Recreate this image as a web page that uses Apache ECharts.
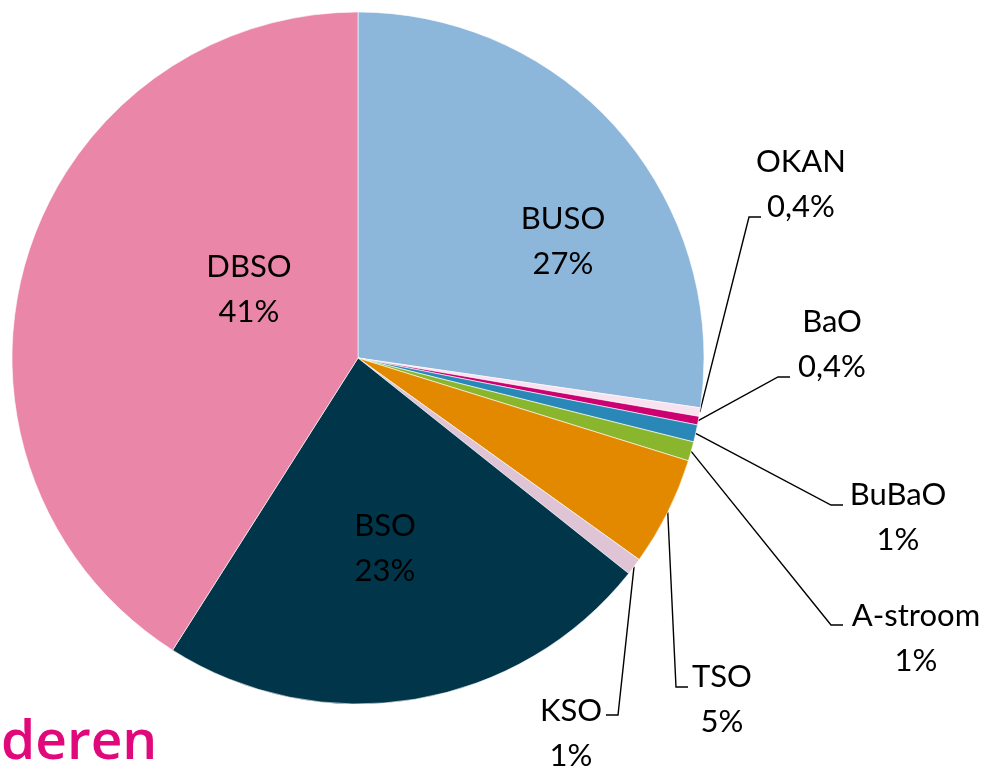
<!DOCTYPE html>
<html>
<head>
<meta charset="utf-8">
<script src="https://cdn.jsdelivr.net/npm/echarts@6/dist/echarts.min.js"></script>
<style>
  html, body { margin: 0; padding: 0; background: #fff; }
  #chart { width: 990px; height: 770px; }
</style>
</head>
<body>
<div id="chart"></div>
<script>
// slices, clockwise from 12 o'clock
const names = ['BUSO', 'OKAN', 'BaO', 'BuBaO', 'A-stroom', 'TSO', 'KSO', 'BSO', 'DBSO'];
const shares = [27.3, 0.4, 0.4, 0.8, 0.9, 5.1, 0.8, 23.3, 41.0];
const colors = ['#8CB6DA', '#F8E2EF', '#CC0070', '#2A88B8', '#8AB62E', '#E38900', '#DEC4D4', '#00354A', '#EA86A7'];
const insideNames = ['BUSO', 'BSO', 'DBSO'];

// label placement (centre of the two-line block), leader end x and y
const labelPos = {
  'BUSO':     {x: 563, y: 241},
  'DBSO':     {x: 249, y: 289},
  'BSO':      {x: 385, y: 548},
  'OKAN':     {x: 801, y: 184, endX: 761, endY: 217, side: 'left'},
  'BaO':      {x: 832, y: 344, endX: 790, endY: 377, side: 'left'},
  'BuBaO':    {x: 898, y: 517, endX: 843, endY: 505, side: 'left'},
  'A-stroom': {x: 916, y: 638, endX: 843, endY: 625, side: 'left'},
  'TSO':      {x: 722, y: 699, endX: 688, endY: 687, side: 'left'},
  'KSO':      {x: 571, y: 733, endX: 606, endY: 715, side: 'right'}
};

function pct(v) {
  if (v < 0.5) return v.toFixed(1).replace('.', ',') + '%';
  return Math.round(v) + '%';
}

const chart = echarts.init(document.getElementById('chart'));

const option = {
  animation: false,
  color: colors,
  textStyle: {fontFamily: 'Lato'},
  graphic: [{
    type: 'text',
    left: 1,
    top: 716,
    style: {
      text: 'deren',
      fill: '#E0087B',
      font: '600 55px "Open Sans"'
    }
  }],
  series: [{
    type: 'pie',
    center: [358, 358],
    radius: [0, 346],
    startAngle: 90,
    clockwise: true,
    avoidLabelOverlap: false,
    itemStyle: {borderColor: '#fff', borderWidth: 0.6},
    label: {
      show: true,
      position: 'outside',
      color: '#000',
      fontFamily: 'Lato',
      fontSize: 31,
      lineHeight: 45,
      align: 'center',
      formatter: p => p.name + '\n' + pct(p.value)
    },
    labelLine: {
      show: true,
      length: 10,
      length2: 10,
      lineStyle: {color: '#000', width: 1.4}
    },
    labelLayout: function (params) {
      const name = names[params.dataIndex];
      const lp = labelPos[name];
      const res = {x: lp.x, y: lp.y, align: 'center', verticalAlign: 'middle'};
      if (lp.endX !== undefined && params.labelLinePoints) {
        const anchor = params.labelLinePoints[0];
        const elbowX = lp.side === 'left' ? lp.endX - 12 : lp.endX + 12;
        res.labelLinePoints = [anchor, [elbowX, lp.endY], [lp.endX, lp.endY]];
      }
      return res;
    },
    data: names.map((n, i) => ({
      name: n,
      value: shares[i],
      labelLine: {show: insideNames.indexOf(n) < 0}
    }))
  }]
};

chart.setOption(option);
</script>
</body>
</html>
